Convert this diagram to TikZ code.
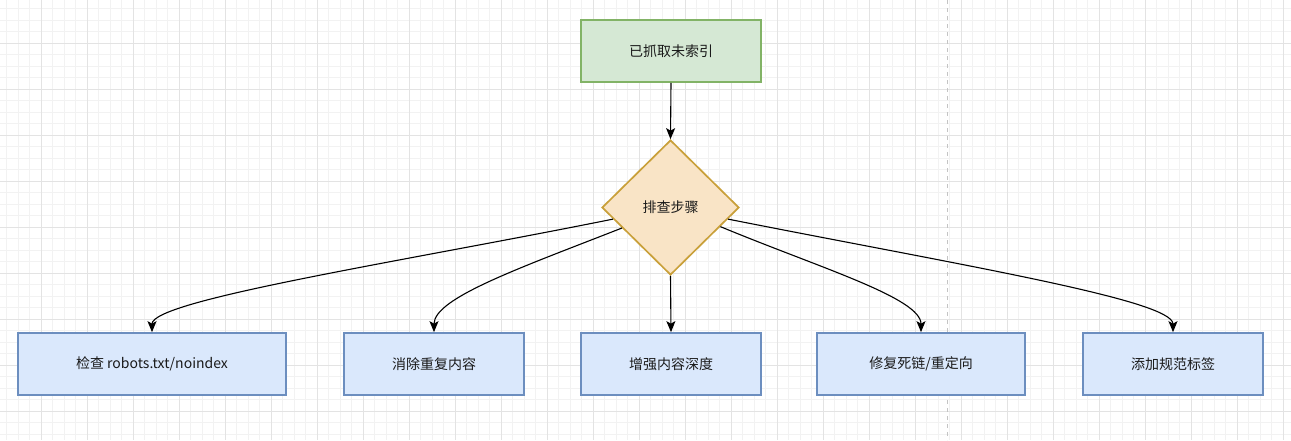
\documentclass[tikz,border=0pt]{standalone}
\usepackage{fontspec}
\setmainfont{Noto Sans CJK SC}
\usetikzlibrary{shapes.geometric,arrows.meta,calc}
\definecolor{gminor}{HTML}{F2F2F2}
\definecolor{gmajor}{HTML}{E3E3E3}
\definecolor{pagebrk}{HTML}{C4C4C4}
\definecolor{greenfill}{HTML}{D5E8D4}
\definecolor{greenline}{HTML}{82B366}
\definecolor{orfill}{HTML}{F9E4C6}
\definecolor{orline}{HTML}{C9A03A}
\definecolor{bluefill}{HTML}{DAE8FC}
\definecolor{blueline}{HTML}{6C8EBF}
\definecolor{txt}{HTML}{1A1A1A}
\tikzset{
  minorgrid/.style={gminor, line width=0.8pt},
  majorgrid/.style={gmajor, line width=0.8pt},
  lbl/.style={font=\fontsize{14pt}{16pt}\selectfont, text=txt, inner sep=0pt},
  startbox/.style={lbl, draw=greenline, fill=greenfill, line width=1.7pt, minimum width=180pt, minimum height=62pt},
  decide/.style={lbl, diamond, draw=orline, fill=orfill, line width=1.7pt, minimum width=137pt, minimum height=135pt},
  stepbox/.style={lbl, draw=blueline, fill=bluefill, line width=1.7pt, minimum height=62pt},
  conn/.style={line width=1.1pt, black, -{Stealth[length=11pt,width=9pt,inset=2.5pt]}}
}
\begin{document}
\begin{tikzpicture}[x=1pt,y=-1pt]
\useasboundingbox (0,0) rectangle (1291,440);
\fill[white] (0,0) rectangle (1291,440);
% grid
\foreach \i in {0,...,112} { \draw[minorgrid] ({6.8+11.5*\i},0) -- ({6.8+11.5*\i},440); }
\foreach \j in {0,...,37} { \draw[minorgrid] (0,{8.8+11.5*\j}) -- (1291,{8.8+11.5*\j}); }
\foreach \i in {1,...,28} { \draw[majorgrid] ({-4.7+46*\i},0) -- ({-4.7+46*\i},440); }
\foreach \j in {1,...,9} { \draw[majorgrid] (0,{-2.7+46*\j}) -- (1291,{-2.7+46*\j}); }
\draw[pagebrk, line width=0.8pt, dash pattern=on 4pt off 4pt] (947.7,0) -- (947.7,440);
% nodes
\node[startbox] (top) at (671,51) {已抓取未索引};
\node[decide] (d) at (670.5,207.5) {排查步骤};
\node[stepbox, minimum width=268pt] (b1) at (152,364) {检查 robots.txt/noindex};
\node[stepbox, minimum width=180pt] (b2) at (434,364) {消除重复内容};
\node[stepbox, minimum width=180pt] (b3) at (671,364) {增强内容深度};
\node[stepbox, minimum width=208pt] (b4) at (921,364) {修复死链/重定向};
\node[stepbox, minimum width=180pt] (b5) at (1173,364) {添加规范标签};
% start points on diamond
\coordinate (s1) at ($(d.west)!0.17!(d.south)$);
\coordinate (s2) at ($(d.west)!0.30!(d.south)$);
\coordinate (s4) at ($(d.east)!0.28!(d.south)$);
\coordinate (s5) at ($(d.east)!0.17!(d.south)$);
% connectors
\draw[conn] (top.south) -- (d.north);
\draw[conn] (d.south) -- (b3.north);
\draw[conn] (s1) .. controls (400,262) and (152,300) .. (b1.north);
\draw[conn] (s2) .. controls (520,268) and (434,298) .. (b2.north);
\draw[conn] (s4) .. controls (820,268) and (921,298) .. (b4.north);
\draw[conn] (s5) .. controls (960,265) and (1173,300) .. (b5.north);
\end{tikzpicture}
\end{document}
